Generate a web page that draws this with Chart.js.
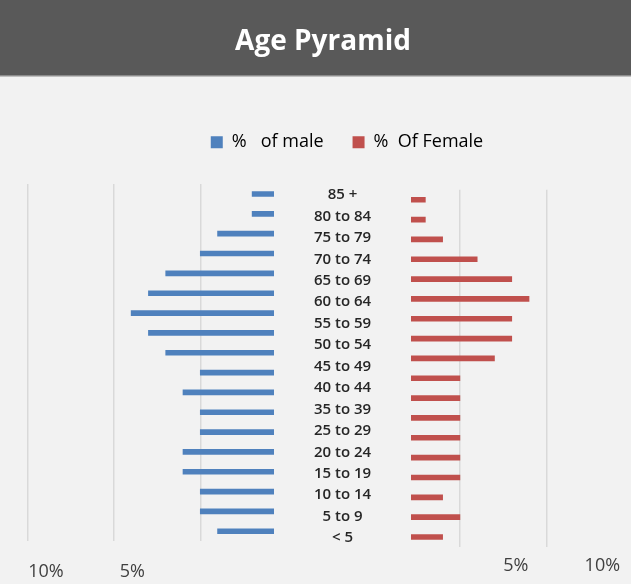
<!DOCTYPE html>
<html>
<head>
<meta charset="utf-8">
<title>Age Pyramid</title>
<script src="https://cdn.jsdelivr.net/npm/chart.js@4.4.1/dist/chart.umd.min.js"></script>
<style>
  html, body { margin: 0; padding: 0; background: #f2f2f2; }
  #wrap { position: relative; width: 631px; height: 584px; }
  #wrap canvas { position: absolute; left: 0; top: 0; }
</style>
</head>
<body>
<div id="wrap">
  <canvas id="maleChart" width="631" height="584"></canvas>
  <canvas id="femaleChart" width="631" height="584"></canvas>
</div>
<script>
// age groups behind the bars (top to bottom)
const ageGroups = ['85 +', '80 to 84', '75 to 79', '70 to 74', '65 to 69', '60 to 64', '55 to 59',
    '50 to 54', '45 to 49', '40 to 44', '35 to 39', '30 to 34', '25 to 29', '20 to 24',
    '15 to 19', '10 to 14', '5 to 9', '< 5'];
// labels printed in the middle (the picture skips "30 to 34")
const ageLabels = ['85 +', '80 to 84', '75 to 79', '70 to 74', '65 to 69', '60 to 64', '55 to 59',
    '50 to 54', '45 to 49', '40 to 44', '35 to 39', '25 to 29', '20 to 24', '15 to 19',
    '10 to 14', '5 to 9', '< 5'];

const malePct = [2, 2, 4, 5, 7, 8, 9, 8, 7, 5, 6, 5, 5, 6, 6, 5, 5, 4];
const femalePct = [3, 3, 4, 6, 8, 9, 8, 8, 7, 5, 5, 5, 5, 5, 5, 4, 5, 4];

const maleLabel = '%   of male';
const femaleLabel = '%  Of Female';

const maleGrid = [5, 10, 15];
const femaleGrid = [5, 10];
const labeledTicks = [5, 10];

const blue = '#4f81bd';
const red = '#c0504d';
const gridColor = '#d9d9d9';
const font = "'Open Sans', sans-serif";

function pctLabel(v) {
    return labeledTicks.includes(v) ? v + '%' : '';
}

// paints the grey page and the dark title band
const backdrop = {
    id: 'backdrop',
    beforeDraw(chart) {
        const ctx = chart.ctx;
        ctx.save();
        ctx.fillStyle = '#f2f2f2';
        ctx.fillRect(0, 0, chart.width, chart.height);
        ctx.fillStyle = '#595959';
        ctx.fillRect(0, 0, chart.width, 75);
        ctx.fillStyle = '#8c8c8c';
        ctx.fillRect(0, 75, chart.width, 1.5);
        ctx.restore();
    }
};

// left half: title, male bars, middle labels
new Chart(document.getElementById('maleChart'), {
    type: 'bar',
    data: {
        labels: ageGroups,
        datasets: [{
            label: maleLabel,
            data: malePct,
            backgroundColor: blue,
            barThickness: 5
        }]
    },
    options: {
        indexAxis: 'y',
        responsive: false,
        animation: false,
        layout: { padding: { left: 15, right: 0, top: 0, bottom: 0 } },
        plugins: {
            legend: { display: false },
            tooltip: { enabled: false },
            title: {
                display: true,
                text: 'Age Pyramid',
                color: '#ffffff',
                font: { family: font, size: 28, weight: 'bold', lineHeight: 1.2 },
                padding: { top: 24.8, bottom: 125.7 }
            }
        },
        scales: {
            x: {
                type: 'linear',
                reverse: true,
                min: 0.735,
                max: 15.72,
                afterBuildTicks: s => { s.ticks = maleGrid.map(v => ({ value: v })); },
                afterFit: s => { s.height = 42.8; },
                grid: { color: gridColor, lineWidth: 1.5, drawTicks: false },
                border: { display: false },
                ticks: {
                    callback: pctLabel,
                    labelOffset: -68,
                    padding: 19.5,
                    color: '#404040',
                    font: { family: font, size: 18 }
                }
            },
            y: { type: 'category', display: false },
            yAge: {
                type: 'linear',
                position: 'right',
                reverse: true,
                offset: false,
                min: -0.508,
                max: 16.15,
                afterBuildTicks: s => { s.ticks = ageLabels.map((_, i) => ({ value: i })); },
                afterFit: s => {
                    s.width = 357;
                    s.paddingTop = 0;
                    s.paddingBottom = 0;
                },
                grid: { display: false, drawTicks: false },
                border: { display: false },
                ticks: {
                    autoSkip: false,
                    callback: v => ageLabels[v],
                    crossAlign: 'center',
                    padding: 40,
                    color: '#262626',
                    font: { family: font, size: 15, weight: '600' }
                }
            }
        }
    },
    plugins: [backdrop]
});

// right half: legend and female bars
new Chart(document.getElementById('femaleChart'), {
    type: 'bar',
    data: {
        labels: ageGroups,
        datasets: [{
            label: femaleLabel,
            data: femalePct,
            backgroundColor: red,
            barThickness: 5
        }]
    },
    options: {
        indexAxis: 'y',
        responsive: false,
        animation: false,
        layout: { padding: { left: 63, right: 0, top: 104.2, bottom: 0 } },
        plugins: {
            tooltip: { enabled: false },
            legend: {
                display: true,
                position: 'top',
                labels: {
                    boxWidth: 12,
                    boxHeight: 12,
                    padding: 29,
                    color: '#595959',
                    font: { family: font, size: 18 },
                    generateLabels: () => [
                        { text: maleLabel, fillStyle: blue, strokeStyle: blue, lineWidth: 0, hidden: false },
                        { text: femaleLabel, fillStyle: red, strokeStyle: red, lineWidth: 0, hidden: false }
                    ]
                }
            },
            // empty block that keeps the gap under the legend
            subtitle: {
                display: true,
                text: '',
                weight: 500,
                font: { size: 10, lineHeight: 1 },
                padding: { top: 0, bottom: 18.6 }
            }
        },
        scales: {
            x: {
                type: 'linear',
                min: 2.17,
                max: 14.9,
                afterBuildTicks: s => { s.ticks = femaleGrid.map(v => ({ value: v })); },
                afterFit: s => { s.height = 37.1; },
                grid: { color: gridColor, lineWidth: 1.5, drawTicks: false },
                border: { display: false },
                ticks: {
                    callback: pctLabel,
                    labelOffset: 56,
                    padding: 8.5,
                    color: '#404040',
                    font: { family: font, size: 18 }
                }
            },
            y: {
                type: 'category',
                afterFit: s => { s.width = 348; },
                grid: { display: false, drawTicks: false },
                border: { display: false },
                ticks: { display: false }
            }
        }
    }
});
</script>
</body>
</html>
